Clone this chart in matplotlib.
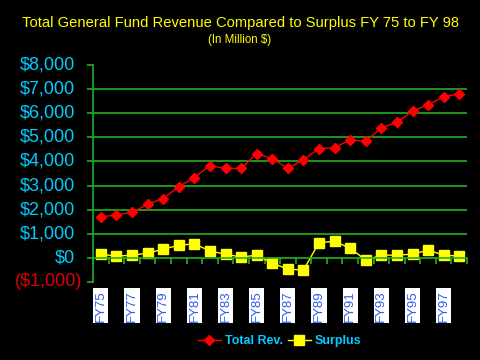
import numpy as np
import matplotlib.pyplot as plt
import matplotlib.transforms as mtransforms

plt.rcParams['font.family'] = ['Liberation Sans', 'DejaVu Sans']

years = ["FY75", "FY76", "FY77", "FY78", "FY79", "FY80", "FY81", "FY82",
         "FY83", "FY84", "FY85", "FY86", "FY87", "FY88", "FY89", "FY90",
         "FY91", "FY92", "FY93", "FY94", "FY95", "FY96", "FY97", "FY98"]
total_rev = [1700, 1780, 1890, 2220, 2460, 2960, 3330, 3830,
             3710, 3710, 4330, 4120, 3710, 4080, 4530, 4570,
             4900, 4840, 5400, 5620, 6100, 6350, 6690, 6810]
surplus = [150, 70, 110, 190, 360, 520, 580, 280,
           150, 30, 110, -220, -470, -510, 630, 680,
           400, -100, 110, 110, 150, 320, 110, 70]
ytick_vals = [-1000, 0, 1000, 2000, 3000, 4000, 5000, 6000, 7000, 8000]
ytick_labels = ["($1,000)", "$0", "$1,000", "$2,000", "$3,000", "$4,000",
                "$5,000", "$6,000", "$7,000", "$8,000"]

green = "#22b022"
cyan = "#00ccff"

fig = plt.figure(figsize=(4.8, 3.6), dpi=100, facecolor="black")
ax = fig.add_axes([0.194, 0.217, 0.779, 0.602], facecolor="black")

x = np.arange(len(years))
ax.plot(x, total_rev, color="red", lw=1, marker="D", ms=5.5, label="Total Rev.")
ax.plot(x, surplus, color="yellow", lw=1, marker="s", ms=6.5, label="Surplus")

ax.set_xlim(-0.5, len(years) - 0.5)
ax.set_ylim(-1000, 8000)

# gridlines
for v in range(1000, 8000, 1000):
    ax.axhline(v, color=green, lw=1.2, zorder=0)

for s in ["top", "right"]:
    ax.spines[s].set_visible(False)
ax.spines["left"].set_color(green)
ax.spines["left"].set_linewidth(1.2)
ax.spines["bottom"].set_position(("data", 0))
ax.spines["bottom"].set_color(green)
ax.spines["bottom"].set_linewidth(1.2)

# y labels drawn by hand: positives leave room for the ")" like the accounting format
ax.set_yticks(ytick_vals)
ax.set_yticklabels([])
ax.tick_params(axis="y", colors=green, length=4, width=1.2)
ytrans = mtransforms.blended_transform_factory(ax.transAxes, ax.transData)
for v, lbl in zip(ytick_vals, ytick_labels):
    if v < 0:
        off = mtransforms.ScaledTranslation(-11 / 100, 0, fig.dpi_scale_trans)
        col = "#e00000"
    else:
        off = mtransforms.ScaledTranslation(-18 / 100, 0, fig.dpi_scale_trans)
        col = cyan
    ax.text(0, v, lbl, transform=ytrans + off, ha="right", va="center",
            fontsize=13, color=col)

ax.set_xticks(np.arange(-0.5, len(years), 1.0))
ax.set_xticklabels([])
ax.tick_params(axis="x", colors=green, length=4, width=1.2, direction="out")

trans = mtransforms.blended_transform_factory(ax.transData, ax.transAxes)
for i in range(0, len(years), 2):
    ax.text(i, -0.11, years[i], rotation=90, transform=trans, ha="center",
            va="center", fontsize=9.5, color="#2b5cf0",
            bbox=dict(boxstyle="square,pad=0.12", fc="white", ec="none"))

fig.text(0.5, 0.937, "Total General Fund Revenue Compared to Surplus FY 75 to FY 98",
         ha="center", va="center", color="yellow", fontsize=10.6)
fig.text(0.5, 0.89, "(In Million $)", ha="center", va="center",
         color="yellow", fontsize=8.3)

leg = fig.legend(loc="center", bbox_to_anchor=(0.583, 0.053), ncol=2, frameon=False,
                 fontsize=9, handlelength=1.8, columnspacing=0.4, handletextpad=0.35)
for t in leg.get_texts():
    t.set_color(cyan)
    t.set_fontweight("bold")

fig.savefig("out.png", dpi=100, facecolor="black")
